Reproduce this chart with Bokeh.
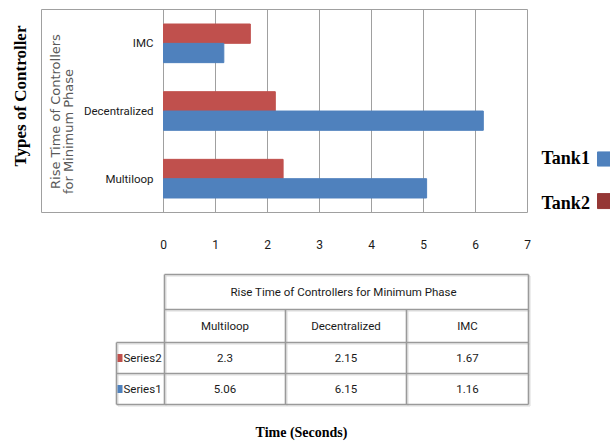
from bokeh.plotting import figure
from bokeh.layouts import row, column
from bokeh.models import (ColumnDataSource, FactorRange, Range1d, FixedTicker,
                          Label)
from bokeh.transform import dodge
from bokeh.core.properties import value
from bokeh.embed import file_html
from bokeh.resources import INLINE
import math

# ---------------- data ----------------
categories = ["Multiloop", "Decentralized", "IMC"]
series1 = [5.06, 6.15, 1.16]   # Tank1 (blue)
series2 = [2.3, 2.15, 1.67]    # Tank2 (red)
x_ticks = [0, 1, 2, 3, 4, 5, 6, 7]
series_names = ["Series2", "Series1"]
legend_names = ["Tank1", "Tank2"]
table_title = "Rise Time of Controllers for  Minimum  Phase"
y_title = "Types of Controller"
inner_title = ["Rise Time  of Controllers", "for Minimum Phase"]
x_title = "Time (Seconds)"

BLUE = "#4F81BD"
RED = "#C0504D"
DARKRED = "#953735"
GRID = "#A0A0A0"
SANS = "Roboto"
SERIF = "Liberation Serif"
TXT = "#1A1A1A"

TOP_H = 258      # page y 0..258
W_LEFT = 40      # page x 0..40
W_MAIN = 495     # page x 40..535
W_LEG = 75       # page x 535..610
TAB_H = 446 - TOP_H

# ---------------- main chart ----------------
src = ColumnDataSource(dict(cat=categories, s1=series1, s2=series2,
                            lab=categories))
x_lo = -122 / 52.0
p = figure(width=W_MAIN, height=TOP_H, output_backend="svg",
           toolbar_location=None,
           y_range=FactorRange(factors=categories, range_padding=0),
           x_range=Range1d(x_lo, 7), y_axis_location=None,
           min_border_left=1, min_border_right=8, min_border_top=9,
           min_border_bottom=46)
p.outline_line_color = GRID
p.outline_line_width = 1
p.background_fill_color = "white"
p.border_fill_color = "white"

p.hbar(y=dodge("cat", 0.143, range=p.y_range), right="s2", left=0, height=0.285,
       source=src, fill_color=RED, line_color=RED)
p.hbar(y=dodge("cat", -0.143, range=p.y_range), right="s1", left=0, height=0.285,
       source=src, fill_color=BLUE, line_color=BLUE)

tk = FixedTicker(ticks=x_ticks)
p.xaxis.ticker = tk
p.xgrid.ticker = tk
p.xgrid.grid_line_color = GRID
p.xgrid.grid_line_width = 1
p.ygrid.grid_line_color = None
p.xaxis.axis_line_color = None
p.xaxis.major_tick_line_color = None
p.xaxis.minor_tick_line_color = None
p.xaxis.major_label_standoff = 21
p.xaxis.major_label_text_font = SANS
p.xaxis.major_label_text_font_size = "12px"
p.xaxis.major_label_text_color = TXT

p.text(x=0, y="cat", text="lab", source=src, x_offset=-10,
       text_align="right", text_baseline="middle",
       text_font=value(SANS), text_font_size="11.5px", text_color=TXT)

# rotated inner axis title (two lines); screen units are relative to the frame
p.add_layout(Label(x=14, y=212 - 109, x_units="screen", y_units="screen",
                   text=inner_title[0], angle=math.pi / 2,
                   text_align="center", text_baseline="middle",
                   text_font="DejaVu Sans", text_font_size="13px",
                   text_color="#595959"))
p.add_layout(Label(x=27, y=212 - 131, x_units="screen", y_units="screen",
                   text=inner_title[1], angle=math.pi / 2,
                   text_align="center", text_baseline="middle",
                   text_font="DejaVu Sans", text_font_size="13px",
                   text_color="#595959"))


# ---------------- helper strips ----------------
def blank(w, h):
    f = figure(width=w, height=h, output_backend="svg", toolbar_location=None,
               x_range=Range1d(0, w), y_range=Range1d(0, h),
               min_border=0, x_axis_location=None, y_axis_location=None)
    f.outline_line_color = None
    f.grid.grid_line_color = None
    f.background_fill_color = "white"
    f.border_fill_color = "white"
    return f


left = blank(W_LEFT, TOP_H)
left.text(x=[20], y=[TOP_H - 110], text=[y_title], angle=math.pi / 2,
          text_align="center", text_baseline="middle",
          text_font=value(SERIF), text_font_style="bold",
          text_font_size="17px", text_color="#000000")

leg = blank(W_LEG, TOP_H)
LX0 = 535
leg.text(x=[541 - LX0] * 2, y=[TOP_H - 189, TOP_H - 246], text=legend_names,
         text_align="left", text_baseline="middle", text_font=value(SERIF),
         text_font_style="bold", text_font_size="18px", text_color="#000000")
leg.quad(left=[597 - LX0] * 2, right=[610 - LX0] * 2,
         bottom=[TOP_H - 199, TOP_H - 253], top=[TOP_H - 181, TOP_H - 234],
         fill_color=[BLUE, DARKRED], line_color=[BLUE, DARKRED])

# ---------------- table strip ----------------
tab = blank(610, TAB_H)


def Y(py):
    return 446 - py


cols = [116, 164, 285, 406, 528]
rows = [274, 309, 342, 373, 404]
x0s, y0s, x1s, y1s = [], [], [], []
for i, ry in enumerate(rows):
    start = cols[1] if i < 2 else cols[0]
    x0s.append(start); x1s.append(cols[-1]); y0s.append(Y(ry)); y1s.append(Y(ry))
for j, cx in enumerate(cols):
    if j == 0:
        top = rows[2]
    elif j == 1 or j == len(cols) - 1:
        top = rows[0]
    else:
        top = rows[1]
    x0s.append(cx); x1s.append(cx); y0s.append(Y(top)); y1s.append(Y(rows[-1]))
tab.segment(x0=[v + 1.5 for v in x0s], y0=[v - 1.5 for v in y0s],
            x1=[v + 1.5 for v in x1s], y1=[v - 1.5 for v in y1s],
            line_color="#DCDCDC", line_width=1)
tab.segment(x0=x0s, y0=y0s, x1=x1s, y1=y1s, line_color="#9A9A9A", line_width=1.6)

col_mid = [(cols[k] + cols[k + 1]) / 2 for k in range(1, 4)]
row_mid = [Y((rows[k] + rows[k + 1]) / 2) for k in range(4)]
tfont = dict(text_font=value(SANS), text_font_size="11.5px", text_color=TXT,
             text_baseline="middle")
tab.text(x=[(cols[1] + cols[-1]) / 2], y=[row_mid[0]], text=[table_title],
         text_align="center", **tfont)
tab.text(x=col_mid, y=[row_mid[1]] * 3, text=categories, text_align="center", **tfont)
tab.text(x=col_mid, y=[row_mid[2]] * 3, text=[str(v) for v in series2],
         text_align="center", **tfont)
tab.text(x=col_mid, y=[row_mid[3]] * 3, text=[str(v) for v in series1],
         text_align="center", **tfont)
tab.text(x=[123] * 2, y=[row_mid[2], row_mid[3]], text=series_names,
         text_align="left", **tfont)
tab.quad(left=[117] * 2, right=[122] * 2,
         bottom=[row_mid[2] - 4, row_mid[3] - 4], top=[row_mid[2] + 4, row_mid[3] + 4],
         fill_color=[RED, BLUE], line_color=None)
tab.text(x=[301], y=[Y(432)], text=[x_title], text_align="center",
         text_baseline="middle", text_font=value(SERIF), text_font_style="bold",
         text_font_size="14px", text_color="#000000")

layout = column(row(left, p, leg, spacing=0), tab, spacing=0)

open("out.html", "w").write(file_html(layout, INLINE))
